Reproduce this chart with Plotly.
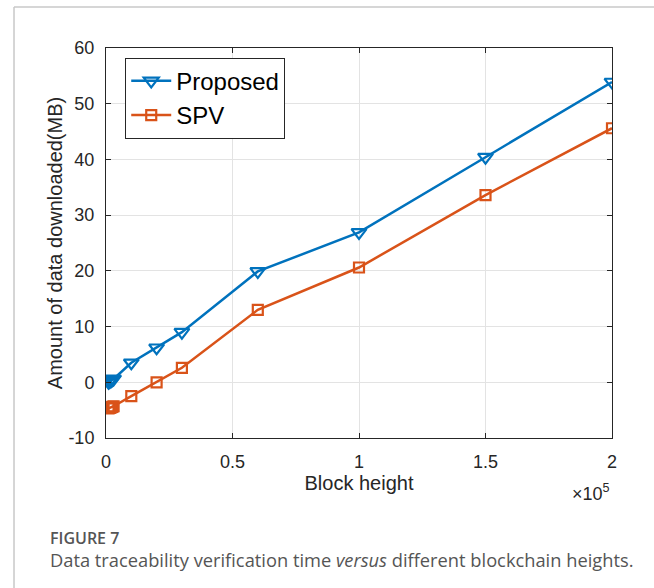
import plotly.graph_objects as go

block_height = [1000, 1500, 2000, 2500, 3000, 10000, 20000, 30000, 60000, 100000, 150000, 200000]
proposed = [0.0, 0.15, 0.3, 0.45, 0.6, 3.5, 6.2, 9.0, 19.9, 26.9, 40.4, 53.9]
spv = [-4.7, -4.6, -4.5, -4.4, -4.3, -2.5, 0.0, 2.6, 13.0, 20.6, 33.6, 45.6]
x_tickvals = [0, 50000, 100000, 150000, 200000]
x_ticktext = ["0", "0.5", "1", "1.5", "2"]
y_tickvals = [-10, 0, 10, 20, 30, 40, 50, 60]
y_ticktext = ["-10", "0", "10", "20", "30", "40", "50", "60"]

BLUE = "#0072BD"
ORANGE = "#D95319"
FONT = "Arial"

fig = go.Figure()
fig.add_trace(go.Scatter(
    x=block_height, y=proposed, name="Proposed", mode="lines+markers",
    line=dict(color=BLUE, width=2.5),
    marker=dict(symbol="triangle-down-open", size=13, color=BLUE, line=dict(width=2.2, color=BLUE)),
))
fig.add_trace(go.Scatter(
    x=block_height, y=spv, name="SPV", mode="lines+markers",
    line=dict(color=ORANGE, width=2.5),
    marker=dict(symbol="square-open", size=10, color=ORANGE, line=dict(width=2.2, color=ORANGE)),
))

axis_common = dict(
    showline=True, linecolor="#262626", linewidth=1, mirror="ticks",
    ticks="inside", ticklen=5, tickcolor="#262626",
    showgrid=True, gridcolor="#e3e3e3", gridwidth=1, zeroline=False,
    tickfont=dict(family=FONT, size=18, color="#262626"),
)
fig.update_xaxes(range=[0, 200000], tickvals=x_tickvals, ticktext=x_ticktext, ticklabelstandoff=7,
                 title=dict(text="Block height", font=dict(family=FONT, size=20, color="#262626"), standoff=4),
                 **axis_common)
fig.update_yaxes(range=[-10, 60], tickvals=y_tickvals, ticktext=y_ticktext, ticklabelstandoff=7,
                 title=dict(text="Amount of data downloaded(MB)", font=dict(family=FONT, size=20, color="#262626"), standoff=0),
                 **axis_common)

fig.update_layout(
    width=654, height=588,
    margin=dict(l=106, r=42, t=48, b=150),
    paper_bgcolor="white", plot_bgcolor="white",
    showlegend=True,
    legend=dict(x=0.038, y=0.975, xanchor="left", yanchor="top",
                bgcolor="white", bordercolor="#262626", borderwidth=1,
                font=dict(family=FONT, size=24, color="#000000"),
                tracegroupgap=0, itemwidth=40),
    shapes=[
        dict(type="line", xref="paper", yref="paper", x0=-0.1818, x1=1.09, y0=1.105, y1=1.105,
             line=dict(color="#c8c8c8", width=1.5)),
        dict(type="line", xref="paper", yref="paper", x0=-0.1818, x1=-0.1818, y0=1.105, y1=-0.4,
             line=dict(color="#c8c8c8", width=1.5)),
    ],
    annotations=[
        dict(text="×10<sup>5</sup>", xref="paper", yref="paper", x=1.0, y=-0.14,
             xanchor="right", yanchor="middle", showarrow=False,
             font=dict(family=FONT, size=18, color="#262626")),
        dict(text="FIGURE 7", xref="paper", yref="paper", x=-0.1146, y=-0.2564,
             xanchor="left", yanchor="middle", showarrow=False,
             font=dict(family="Open Sans, sans-serif", size=16, color="#555555", weight=600)),
        dict(text="Data traceability verification time <i>versus</i> different blockchain heights.",
             xref="paper", yref="paper", x=-0.1146, y=-0.3103,
             xanchor="left", yanchor="middle", showarrow=False,
             font=dict(family="Open Sans, sans-serif", size=18.3, color="#555555")),
    ],
)

fig.write_html("out.html", config={"displayModeBar": False},
               post_script="document.body.style.margin='0';document.body.style.padding='0';")
